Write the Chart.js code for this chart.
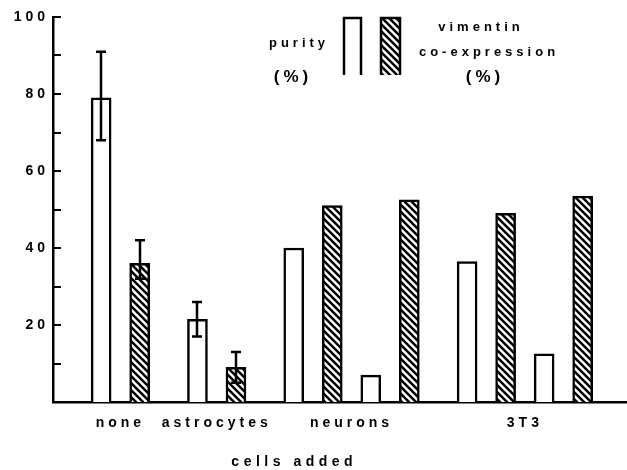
<!DOCTYPE html>
<html>
<head>
<meta charset="utf-8">
<script src="https://cdn.jsdelivr.net/npm/chart.js@4.4.1/dist/chart.umd.min.js"></script>
<style>
  html, body { margin: 0; padding: 0; background: #fff; }
  #wrap { width: 627px; height: 470px; }
</style>
</head>
<body>
<div id="wrap"><canvas id="chart" width="627" height="470"></canvas></div>
<script>
// groups of cells added; neurons and 3T3 have two purity/vimentin pairs each
const groupLabels = ['none', 'astrocytes', 'neurons', '3T3'];
const pairGroup = [0, 1, 2, 2, 3, 3];
const purity = [79, 21.5, 40, 7, 36.5, 12.5];
const vimentin = [36, 9, 51, 52.5, 49, 53.5];
const purityErr = [[68, 91], [17, 26], null, null, null, null];
const vimentinErr = [[32, 42], [5, 13], null, null, null, null];
const yLabelTicks = [20, 40, 60, 80, 100];
const xTitle = 'cells added';

const FONT = '"Liberation Sans", Arial, sans-serif';
const SPACING = 4;

// slot layout: bars sit 2 units apart, pairs in a group 4 apart, groups 5 apart
const slots = [];
let pos = 0;
pairGroup.forEach((g, i) => {
  if (i > 0) pos += (g === pairGroup[i - 1]) ? 4 : 5;
  slots.push(pos);
});
const groupCenters = groupLabels.map((_, g) => {
  const s = slots.filter((_, i) => pairGroup[i] === g);
  return (s[0] + s[s.length - 1] + 2) / 2;
});

function hatch() {
  const c = document.createElement('canvas');
  c.width = c.height = 7;
  const g = c.getContext('2d');
  g.fillStyle = '#fff';
  g.fillRect(0, 0, 7, 7);
  g.strokeStyle = '#000';
  g.lineWidth = 2.5;
  g.beginPath();
  g.moveTo(-1, -1); g.lineTo(8, 8);
  g.moveTo(-1, 6); g.lineTo(1, 8);
  g.moveTo(6, -1); g.lineTo(8, 1);
  g.stroke();
  return g.createPattern(c, 'repeat');
}
const stripes = hatch();

function spacedText(ctx, text, x, y, spacing) {
  ctx.letterSpacing = spacing + 'px';
  ctx.fillText(text, x + spacing / 2, y);
}

const extras = {
  id: 'extras',
  beforeDraw(chart) {
    chart.ctx.letterSpacing = SPACING + 'px';
  },
  afterDatasetsDraw(chart) {
    const { ctx, scales: { x, y } } = chart;
    ctx.save();
    ctx.strokeStyle = '#000';
    ctx.lineWidth = 2;
    // inward ticks on the y axis
    const left = chart.chartArea.left;
    y.ticks.forEach(t => {
      if (t.value <= 0) return;
      const py = Math.round(y.getPixelForValue(t.value));
      ctx.beginPath();
      ctx.moveTo(left, py);
      ctx.lineTo(left + 8, py);
      ctx.stroke();
    });
    // error bars
    ctx.lineWidth = 2.5;
    const drawErr = (errs, offset) => {
      errs.forEach((e, i) => {
        if (!e) return;
        const px = Math.round(x.getPixelForValue(slots[i] + offset));
        const lo = y.getPixelForValue(e[0]);
        const hi = y.getPixelForValue(e[1]);
        ctx.beginPath();
        ctx.moveTo(px, lo); ctx.lineTo(px, hi);
        ctx.moveTo(px - 5, lo); ctx.lineTo(px + 5, lo);
        ctx.moveTo(px - 5, hi); ctx.lineTo(px + 5, hi);
        ctx.stroke();
      });
    };
    drawErr(purityErr, 0);
    drawErr(vimentinErr, 2);
    ctx.restore();
  },
  afterDraw(chart) {
    const ctx = chart.ctx;
    ctx.save();
    ctx.fillStyle = '#000';
    ctx.strokeStyle = '#000';
    ctx.lineWidth = 2.5;
    ctx.textAlign = 'center';
    ctx.textBaseline = 'middle';

    // legend
    ctx.font = 'bold 13px ' + FONT;
    spacedText(ctx, 'purity', 297, 43, 4);
    spacedText(ctx, 'vimentin', 479, 27, 4);
    spacedText(ctx, 'co-expression', 487, 52, 4);
    ctx.font = 'bold 17px ' + FONT;
    spacedText(ctx, '(%)', 291, 77, 4);
    spacedText(ctx, '(%)', 483, 77, 4);

    ctx.beginPath();
    ctx.moveTo(344, 75); ctx.lineTo(344, 18); ctx.lineTo(361, 18); ctx.lineTo(361, 75);
    ctx.stroke();
    ctx.fillStyle = stripes;
    ctx.fillRect(381, 18, 19, 57);
    ctx.beginPath();
    ctx.moveTo(381, 75); ctx.lineTo(381, 18); ctx.lineTo(400, 18); ctx.lineTo(400, 75);
    ctx.stroke();

    // x axis title
    ctx.fillStyle = '#000';
    ctx.font = 'bold 14px ' + FONT;
    spacedText(ctx, xTitle, 292, 462, 4.5);
    ctx.restore();
  }
};

new Chart(document.getElementById('chart'), {
  type: 'bar',
  data: {
    datasets: [{
      label: 'purity (%)',
      data: purity.map((v, i) => ({ x: slots[i], y: v })),
      backgroundColor: '#fff',
      borderColor: '#000',
      borderWidth: 2.5
    }, {
      label: 'vimentin co-expression (%)',
      data: vimentin.map((v, i) => ({ x: slots[i] + 2, y: v })),
      backgroundColor: stripes,
      borderColor: '#000',
      borderWidth: 2.5
    }]
  },
  options: {
    responsive: false,
    animation: false,
    grouped: false,
    barThickness: 20,
    layout: { padding: { top: 17, right: 1, bottom: 0, left: 0 } },
    plugins: {
      legend: { display: false },
      tooltip: { enabled: false }
    },
    scales: {
      x: {
        type: 'linear',
        offset: false,
        min: -2.5,
        max: 27.25,
        grid: { display: false, drawTicks: false },
        border: { display: true, width: 2.5, color: '#000' },
        afterBuildTicks: s => { s.ticks = groupCenters.map(v => ({ value: v })); },
        afterFit: s => { s.height = 68; },
        ticks: {
          autoSkip: false,
          maxRotation: 0,
          padding: 13,
          color: '#000',
          font: { family: FONT, size: 14, weight: 'bold' },
          callback: (v, i) => groupLabels[i]
        }
      },
      y: {
        min: 0,
        max: 100,
        grid: { display: false, drawTicks: false },
        border: { display: true, width: 2.5, color: '#000' },
        afterFit: s => { s.width = 53; },
        ticks: {
          stepSize: 10,
          padding: 4,
          color: '#000',
          font: { family: FONT, size: 14, weight: 'bold' },
          callback: v => yLabelTicks.includes(v) ? v : ''
        }
      }
    }
  },
  plugins: [extras]
});
</script>
</body>
</html>
